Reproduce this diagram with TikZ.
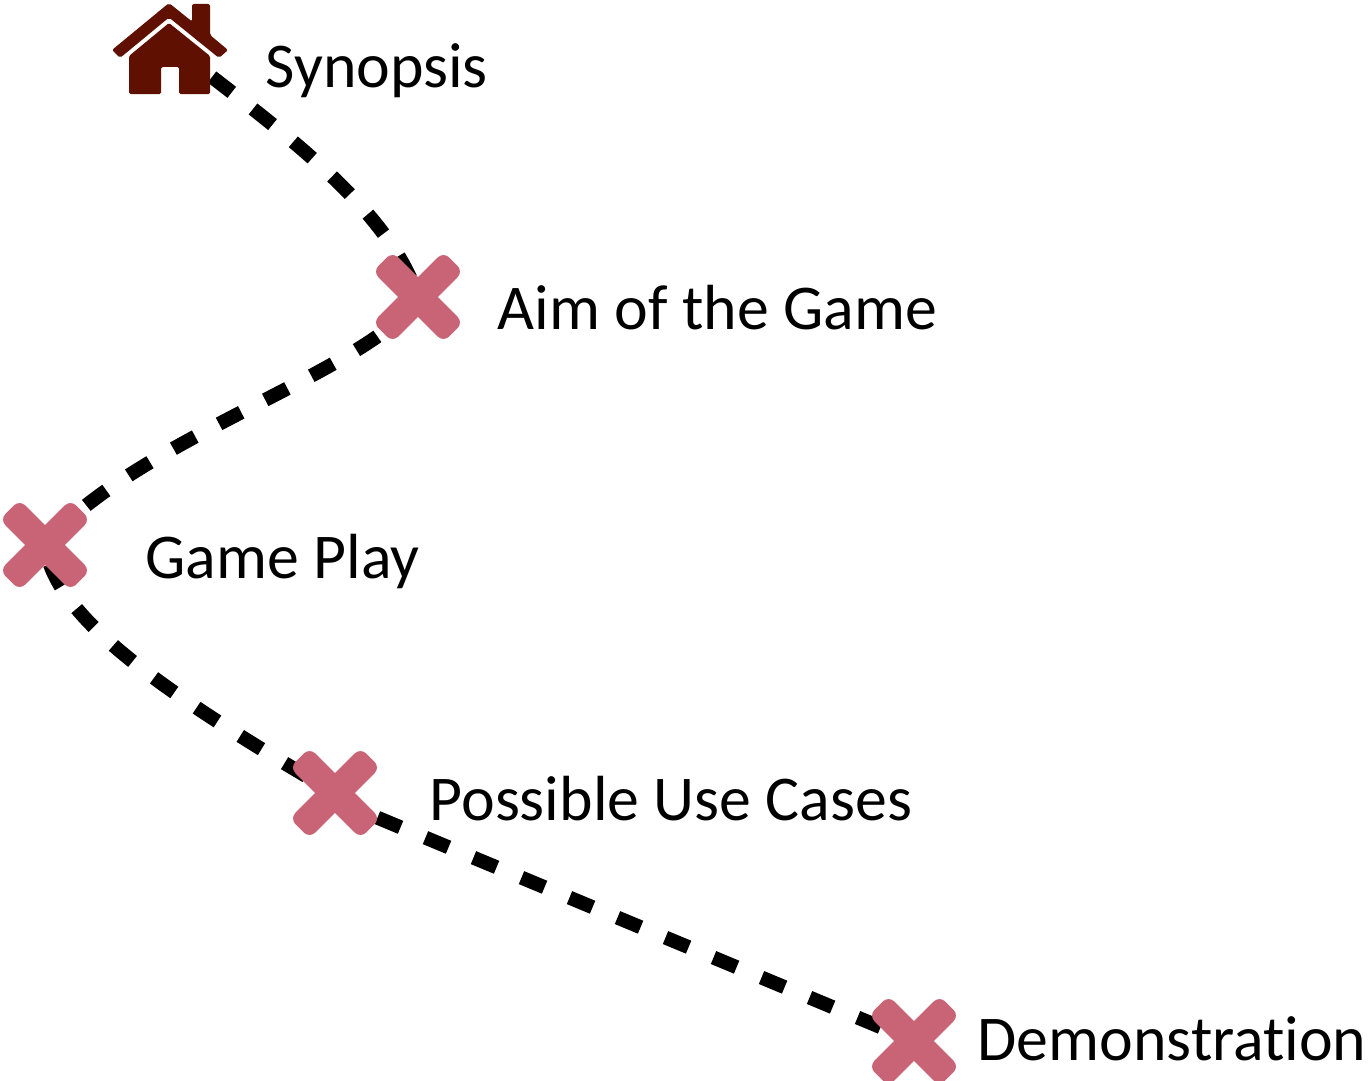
\documentclass[tikz,border=0pt]{standalone}
\usepackage{fontspec}
\setmainfont[Ligatures=NoCommon]{Carlito}
\definecolor{housered}{HTML}{5F1000}
\definecolor{crosspink}{HTML}{C96476}
\tikzset{
  x=1pt,y=-1pt,
  trail/.style={line width=14pt,black,dash pattern=on 25pt off 27pt},
  lbl/.style={anchor=base west,inner sep=0pt,font=\fontsize{63.8}{64}\selectfont},
  cross/.pic={
    \fill[crosspink,rotate=45,rounded corners=8pt] (-50,-14) rectangle (50,14);
    \fill[crosspink,rotate=-45,rounded corners=8pt] (-50,-14) rectangle (50,14);}
}
\begin{document}
\begin{tikzpicture}
\useasboundingbox (0,0) rectangle (1371,1081);
\coordinate (home) at (212,77);
\coordinate (aim) at (418,297);
\coordinate (play) at (45,545);
\coordinate (uses) at (335,793);
\coordinate (usesOut) at (335,800);
\coordinate (demo) at (914,1041);
% connectors
\draw[trail] (home) .. controls (300,145) and (390,215) .. (aim);
\draw[trail,dash phase=47pt] (aim) .. controls (378,368) and (130,441) .. (play);
\draw[trail,dash phase=32pt] (play) .. controls (55,615) and (150,685) .. (uses);
\draw[trail,dash phase=6pt] (usesOut) -- (demo);
% house
\fill[housered,rounded corners=2pt] (169,3)--(192,21.5)--(192,4)--(210,4)--(210,35)--(228,50)--(219,58)--(169,17.5)--(120,58)--(112,50)--cycle;
\fill[housered,rounded corners=1.5pt] (169,23)--(210,56)--(210,94)--(179,94)--(179,67)--(161,67)--(161,94)--(129,94)--(129,56)--cycle;
% crosses
\pic at (aim) {cross};
\pic at (play) {cross};
\pic at (uses) {cross};
\pic at (demo) {cross};
% labels
\node[lbl] (synopsisL) at (265.5,88) {Synopsis};
\node[lbl] (aimL) at (497.5,329) {Aim of the Game};
\node[lbl] (playL) at (145.5,578) {Game Play};
\node[lbl] (usesL) at (429.5,820) {Possible Use Cases};
\node[lbl] (demoL) at (977.5,1060) {Demonstration};
\end{tikzpicture}
\end{document}
